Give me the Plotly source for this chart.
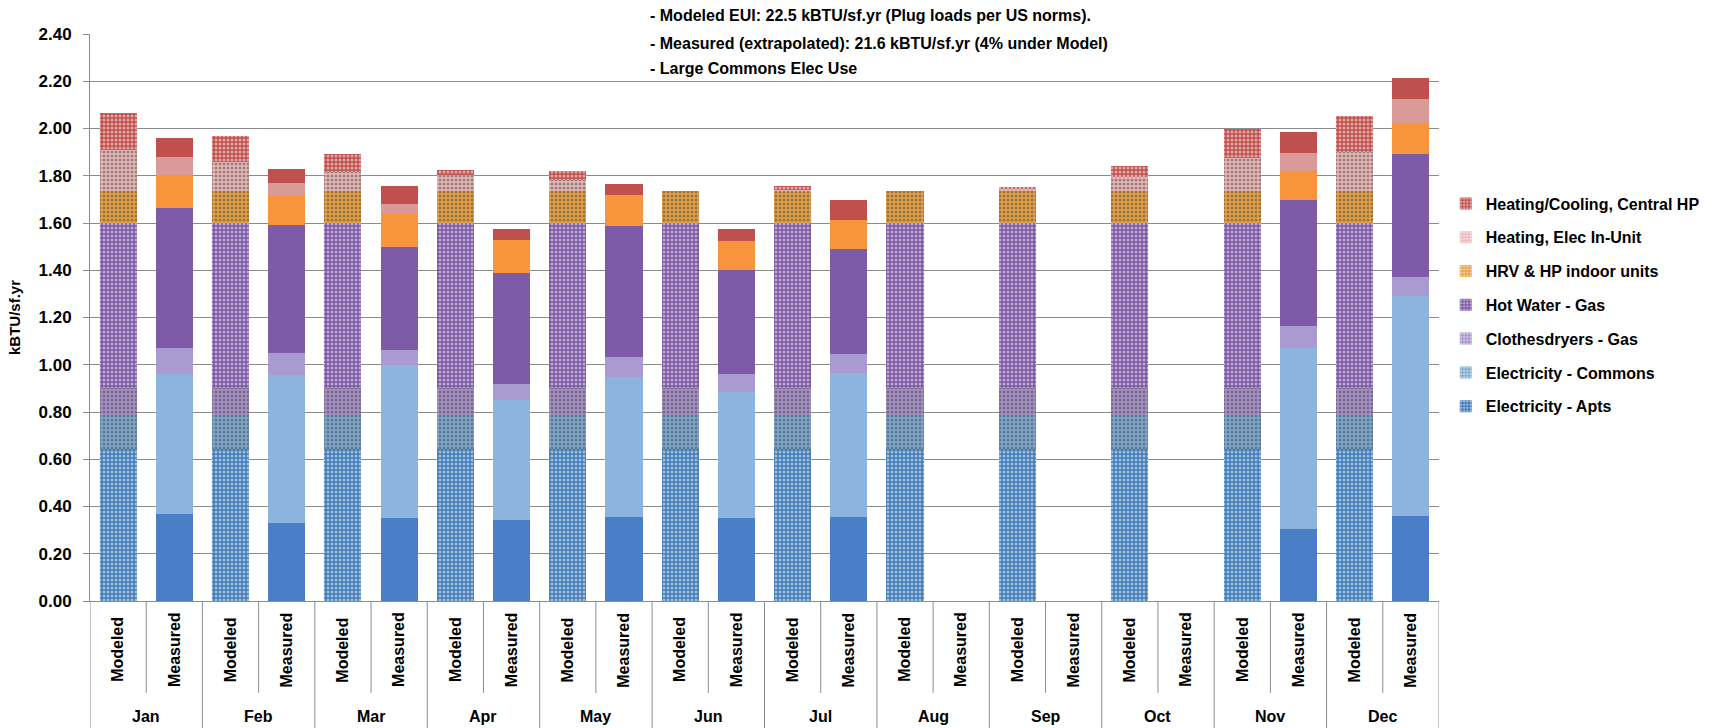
import plotly.graph_objects as go

# ---- data -------------------------------------------------------------
months = ["Jan", "Feb", "Mar", "Apr", "May", "Jun", "Jul", "Aug", "Sep", "Oct", "Nov", "Dec"]
kinds = ["Modeled", "Measured"]

series_names = [
    "Electricity - Apts",
    "Electricity - Commons",
    "Clothesdryers - Gas",
    "Hot Water - Gas",
    "HRV & HP indoor units",
    "Heating, Elec In-Unit",
    "Heating/Cooling, Central HP",
]

# modeled monthly EUI by end use (kBTU/sf.yr)
modeled_apts = [0.645, 0.645, 0.645, 0.645, 0.645, 0.645, 0.645, 0.645, 0.645, 0.645, 0.645, 0.645]
modeled_commons = [0.14, 0.14, 0.14, 0.14, 0.14, 0.14, 0.14, 0.14, 0.14, 0.14, 0.14, 0.14]
modeled_dryers = [0.115, 0.115, 0.115, 0.115, 0.115, 0.115, 0.115, 0.115, 0.115, 0.115, 0.115, 0.115]
modeled_hot_water = [0.70, 0.70, 0.70, 0.70, 0.70, 0.70, 0.70, 0.70, 0.70, 0.70, 0.70, 0.70]
modeled_hrv = [0.135, 0.135, 0.135, 0.135, 0.135, 0.135, 0.135, 0.135, 0.135, 0.135, 0.135, 0.135]
modeled_heat_elec = [0.173, 0.122, 0.081, 0.070, 0.049, 0.0, 0.005, 0.0, 0.010, 0.060, 0.141, 0.165]
modeled_central_hp = [0.156, 0.111, 0.075, 0.020, 0.036, 0.0, 0.015, 0.0, 0.005, 0.045, 0.120, 0.151]

# measured monthly EUI by end use (no data Aug-Oct)
measured_apts = [0.37, 0.33, 0.35, 0.343, 0.357, 0.35, 0.357, None, None, None, 0.306, 0.36]
measured_commons = [0.59, 0.626, 0.648, 0.507, 0.592, 0.536, 0.606, None, None, None, 0.763, 0.931]
measured_dryers = [0.11, 0.094, 0.064, 0.067, 0.084, 0.073, 0.082, None, None, None, 0.096, 0.08]
measured_hot_water = [0.595, 0.54, 0.437, 0.472, 0.553, 0.444, 0.447, None, None, None, 0.534, 0.522]
measured_hrv = [0.14, 0.123, 0.141, 0.138, 0.131, 0.121, 0.12, None, None, None, 0.121, 0.131]
measured_heat_elec = [0.073, 0.057, 0.039, 0.0, 0.0, 0.0, 0.0, None, None, None, 0.077, 0.103]
measured_central_hp = [0.08, 0.057, 0.076, 0.049, 0.047, 0.052, 0.087, None, None, None, 0.089, 0.087]

y_ticks = [0.0, 0.2, 0.4, 0.6, 0.8, 1.0, 1.2, 1.4, 1.6, 1.8, 2.0, 2.2, 2.4]

notes = [
    "- Modeled EUI: 22.5 kBTU/sf.yr (Plug loads per US norms).",
    "- Measured (extrapolated): 21.6 kBTU/sf.yr (4% under Model)",
    "- Large Commons Elec Use",
]

# ---- styling ----------------------------------------------------------
modeled_colors = ["#3F7BB8", "#7EA8CF", "#A892C8", "#7A55A3", "#E9A244", "#EBB9B8", "#C24E4C"]
measured_colors = ["#4A7EC7", "#8DB3DF", "#A99BD1", "#7D5BA6", "#F7943C", "#DA9A98", "#C0504D"]

FONT = "Liberation Sans, Arial, sans-serif"
BOLD16 = dict(family=FONT, size=16, color="black", weight="bold")

modeled_series = [modeled_apts, modeled_commons, modeled_dryers, modeled_hot_water,
                  modeled_hrv, modeled_heat_elec, modeled_central_hp]
measured_series = [measured_apts, measured_commons, measured_dryers, measured_hot_water,
                   measured_hrv, measured_heat_elec, measured_central_hp]

categories = [f"{m} {k}" for m in months for k in kinds]

fig = go.Figure()
n_series = len(series_names)
for idx, (name, mod, meas, c_mod, c_meas) in enumerate(
        zip(series_names, modeled_series, measured_series, modeled_colors, measured_colors)):
    values, colors, pshapes = [], [], []
    for a, b in zip(mod, meas):
        values += [a, b]
        colors += [c_mod, c_meas]
        pshapes += [".", ""]
    fig.add_trace(go.Bar(
        name=name,
        x=categories,
        y=values,
        legendgroup=name,
        legendrank=n_series - idx,  # top of the stack listed first
        marker=dict(
            color=colors,
            line=dict(width=0),
            pattern=dict(shape=pshapes, fillmode="overlay", fgcolor="white",
                         size=4, solidity=0.45),
        ),
    ))

# ---- category labels and dividers under the axis ------------------------
annotations = []
shapes = []
for i, cat in enumerate(categories):
    annotations.append(dict(
        x=cat, y=-0.086, xref="x", yref="paper", text=kinds[i % 2],
        textangle=-90, showarrow=False, xanchor="center", yanchor="middle",
        font=BOLD16,
    ))
for m, month in enumerate(months):
    annotations.append(dict(
        x=2 * m + 0.5, y=-0.203, xref="x", yref="paper", text=month,
        showarrow=False, xanchor="center", yanchor="middle",
        font=BOLD16,
    ))
    # divider between Modeled and Measured
    shapes.append(dict(type="line", xref="x", yref="paper",
                       x0=2 * m + 0.5, x1=2 * m + 0.5, y0=0, y1=-0.162,
                       line=dict(color="#8c8c8c", width=1)))
for m in range(len(months) + 1):
    shapes.append(dict(type="line", xref="x", yref="paper",
                       x0=2 * m - 0.5, x1=2 * m - 0.5, y0=0, y1=-0.23,
                       line=dict(color="#8c8c8c", width=1)))

# white box behind the notes
shapes.append(dict(type="rect", xref="paper", yref="paper",
                   x0=(644 - 90) / 1349, x1=(1259 - 90) / 1349,
                   y0=1.005, y1=1.07, fillcolor="white", line=dict(width=0),
                   layer="above"))

note_y = [16, 43, 68]
for text, yp in zip(notes, note_y):
    annotations.append(dict(
        x=(648 - 90) / 1349, y=(601 - yp) / 567, xref="paper", yref="paper",
        text=text, showarrow=False, xanchor="left", yanchor="middle",
        font=BOLD16,
    ))

fig.update_layout(
    width=1727, height=728, autosize=False,
    margin=dict(l=90, r=288, t=34, b=127),
    paper_bgcolor="white", plot_bgcolor="white",
    barmode="stack", bargap=0.34,
    font=dict(family=FONT, color="black"),
    showlegend=True,
    legend=dict(
        x=1.005, y=0.731, xanchor="left", yanchor="top",
        traceorder="grouped", tracegroupgap=10,
        font=BOLD16,
        itemwidth=30,
    ),
    annotations=annotations,
    shapes=shapes,
)

fig.update_xaxes(
    type="category", showticklabels=False, ticks="",
    showline=True, linecolor="#8c8c8c", linewidth=1,
    showgrid=False, range=[-0.5, 23.5],
)
fig.update_yaxes(
    range=[0, 2.4], tickvals=y_ticks, tickformat=".2f",
    showgrid=True, gridcolor="#8c8c8c", gridwidth=1,
    showline=True, linecolor="#8c8c8c", linewidth=1,
    ticks="outside", ticklen=6, tickcolor="#8c8c8c", ticklabelstandoff=8,
    tickfont=dict(family=FONT, size=17, color="black", weight="bold"),
    title=dict(text="kBTU/sf.yr", standoff=14,
               font=dict(family=FONT, size=15, color="black", weight="bold")),
    zeroline=False,
)

fig.write_html("out.html")
